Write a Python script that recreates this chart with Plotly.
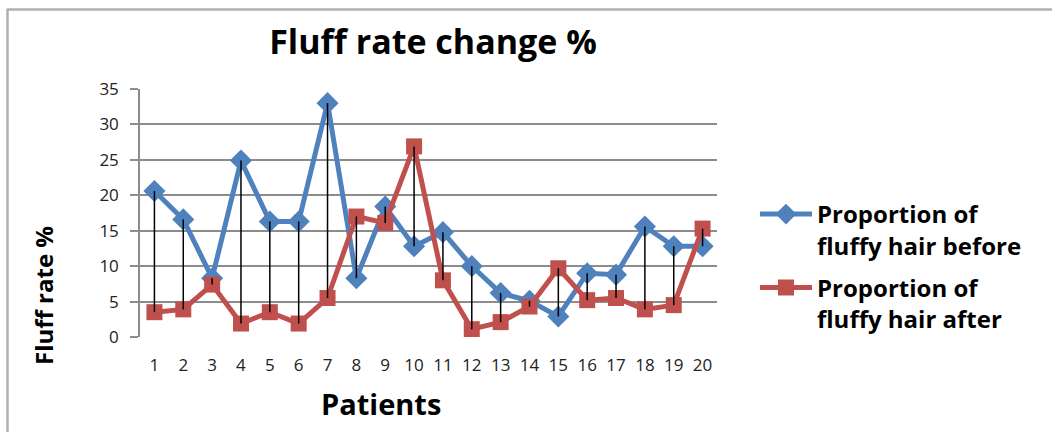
import plotly.graph_objects as go

# Patient numbers and fluff rates (%) before / after treatment
patients = list(range(1, 21))
before = [20.6, 16.6, 8.3, 24.9, 16.3, 16.3, 33.0, 8.3, 18.4, 12.8,
          14.8, 10.0, 6.2, 5.1, 2.9, 9.0, 8.8, 15.6, 12.8, 12.8]
after = [3.5, 3.9, 7.4, 1.9, 3.5, 1.9, 5.5, 17.0, 16.1, 26.9,
         8.0, 1.1, 2.1, 4.3, 9.7, 5.2, 5.5, 3.9, 4.5, 15.3]
y_ticks = [0, 5, 10, 15, 20, 25, 30, 35]

W, H = 1052, 432
L, R, T, B = 140, 335, 89, 95          # plot-area margins in px
PW, PH = W - L - R, H - T - B

def px_x(p):
    return (p - L) / PW

def px_y(p):
    return (H - B - p) / PH

FONT = "Open Sans"
BLUE = "#4F81BD"
RED = "#C0504D"
GRID = "#8C8C8C"

# High-low connectors between the two series for every patient
hl_x, hl_y = [], []
for p, b, a in zip(patients, before, after):
    hl_x += [p, p, None]
    hl_y += [b, a, None]

fig = go.Figure()
fig.add_trace(go.Scatter(
    x=patients, y=before, mode="lines+markers", legendgroup="before",
    name="<b>Proportion of<br>fluffy hair before</b>",
    line=dict(color=BLUE, width=5),
    marker=dict(symbol="diamond", size=17, color=BLUE),
))
fig.add_trace(go.Scatter(
    x=patients, y=after, mode="lines+markers", legendgroup="after",
    name="<b>Proportion of<br>fluffy hair after</b>",
    line=dict(color=RED, width=5),
    marker=dict(symbol="square", size=16, color=RED),
))
fig.add_trace(go.Scatter(
    x=hl_x, y=hl_y, mode="lines", showlegend=False, hoverinfo="skip",
    line=dict(color="black", width=1.5),
))

fig.update_layout(
    width=W, height=H,
    margin=dict(l=L, r=R, t=T, b=B),
    paper_bgcolor="white", plot_bgcolor="white",
    font=dict(family=FONT, color="#1a1a1a"),
    title=dict(text="<b>Fluff rate change %</b>", x=433 / W, xanchor="center",
               xref="container", y=1 - 42 / H, yanchor="middle", yref="container",
               font=dict(size=34, color="black", family=FONT)),
    xaxis=dict(range=[0.5, 20.5], tickmode="array", tickvals=patients,
               ticktext=[str(p) for p in patients], showgrid=False,
               zeroline=False, showline=False, ticks="",
               ticklabelstandoff=16, tickfont=dict(size=17, color="#222")),
    yaxis=dict(range=[0, 35], tickmode="array", tickvals=y_ticks,
               showgrid=True, gridcolor=GRID, gridwidth=1.5,
               zeroline=False, showline=True, linecolor=GRID, linewidth=1.5,
               ticks="outside", ticklen=8, tickcolor=GRID, tickwidth=1.5,
               ticklabelstandoff=8, tickfont=dict(size=17, color="#222")),
    legend=dict(x=px_x(755), xanchor="left", y=px_y(192), yanchor="top",
                valign="top", itemwidth=52, traceorder="grouped",
                tracegroupgap=8,
                font=dict(size=24, color="black", family=FONT),
                bgcolor="rgba(0,0,0,0)"),
    showlegend=True,
    annotations=[
        dict(text="<b>Fluff rate %</b>", xref="paper", yref="paper",
             x=px_x(43), y=px_y(296), xanchor="center", yanchor="middle",
             textangle=-90, showarrow=False,
             font=dict(size=24, color="black", family=FONT)),
        dict(text="<b>Patients</b>", xref="paper", yref="paper",
             x=px_x(381), y=px_y(404), xanchor="center", yanchor="middle",
             showarrow=False,
             font=dict(size=29, color="black", family=FONT)),
    ],
    shapes=[
        dict(type="line", xref="paper", yref="paper",
             x0=px_x(7), x1=px_x(W + 5), y0=px_y(9.5), y1=px_y(9.5),
             line=dict(color="#B0B0B0", width=2.5)),
        dict(type="line", xref="paper", yref="paper",
             x0=px_x(7.5), x1=px_x(7.5), y0=px_y(9), y1=px_y(H + 5),
             line=dict(color="#B0B0B0", width=2.5)),
    ],
)

fig.write_html("out.html")
